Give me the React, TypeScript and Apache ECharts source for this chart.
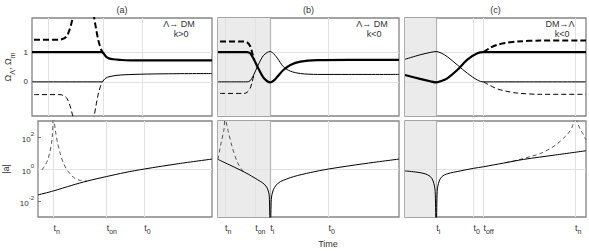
import React, { useEffect, useRef } from 'react';
import * as echarts from 'echarts';

// ---------- data ----------
const panelLabels = ['(a)', '(b)', '(c)'];
const transitionText = [['Λ→ DM', 'k>0'], ['Λ→ DM', 'k<0'], ['DM→Λ', 'k<0']];

// time ticks (per panel, arbitrary time units 0..180)
const aTickValues = [16, 71, 110];
const aTickNames = ['n', 'on', '0'];
const bTickValues = [7, 37, 52, 110];
const bTickNames = ['n', 'on', 'i', '0'];
const cTickValues = [31, 68, 78, 169];
const cTickNames = ['i', '0', 'off', 'n'];

// shaded intervals (start, end)
const bShade = [0, 52];
const cShade = [0, 31];

// top row: density parameters
const aLambda = [[0, 1], [70, 1], [72, 0.94], [74, 0.85], [77, 0.79], [81, 0.76], [88, 0.74], [101, 0.72], [130, 0.72], [180, 0.72]];
const aMatter = [[0, 0], [70, 0], [72, 0.07], [74, 0.13], [77, 0.17], [85, 0.22], [101, 0.25], [130, 0.27], [180, 0.28]];
const aLambdaAlt = [[2, 1.42], [28, 1.42], [32, 1.46], [35, 1.55], [38, 1.8], [40, 2.05], [41, 2.2], [42, 2.6], null, [61, 2.6], [62, 2.2], [64, 1.8], [66, 1.45], [68, 1.2], [70, 1.03], [72, 0.94]];
const aMatterAlt = [[2, -0.43], [28, -0.43], [32, -0.47], [35, -0.56], [38, -0.8], [40, -1.05], [41, -1.2], [42, -1.6], null, [61, -1.6], [62, -1.2], [64, -0.8], [66, -0.45], [68, -0.2], [70, -0.02], [72, 0.07]];

const bLambda = [[0, 1], [29, 1], [32, 0.96], [35, 0.8], [40, 0.46], [45, 0.15], [49, 0.02], [52, -0.02], [55, 0.03], [59, 0.17], [65, 0.4], [72, 0.57], [82, 0.68], [99, 0.73], [130, 0.74], [180, 0.74]];
const bMatter = [[0, 0], [29, 0], [32, 0.04], [35, 0.2], [40, 0.57], [45, 0.88], [49, 0.99], [52, 1.02], [55, 0.96], [59, 0.8], [65, 0.51], [72, 0.36], [82, 0.28], [99, 0.25], [130, 0.25], [180, 0.25]];
const bLambdaAlt = [[2, 1.36], [26, 1.36], [29, 1.33], [32, 1.2], [34, 0.98], [36, 0.73]];
const bMatterAlt = [[2, -0.39], [26, -0.39], [29, -0.35], [32, -0.22], [34, 0.0], [36, 0.27]];

const cMatter = [[0, 0.76], [15, 0.91], [25, 0.99], [31, 1.02], [36, 0.97], [42, 0.85], [52, 0.57], [62, 0.29], [72, 0.06], [78, 0], [120, 0], [180, 0]];
const cLambda = [[0, 0.23], [15, 0.1], [25, 0.02], [31, -0.02], [36, 0.03], [42, 0.12], [52, 0.4], [62, 0.75], [72, 0.96], [78, 1], [120, 1], [180, 1]];
const cLambdaAlt = [[78, 1], [85, 1.15], [92, 1.25], [100, 1.31], [112, 1.36], [135, 1.39], [180, 1.39]];
const cMatterAlt = [[78, 0], [85, -0.13], [92, -0.24], [100, -0.31], [112, -0.38], [135, -0.42], [180, -0.42]];

// bottom row: log10 |a|
const aScale = [[0, -1.62], [16, -1.37], [35, -1.02], [51, -0.75], [71, -0.47], [90, -0.22], [110, 0], [145, 0.33], [180, 0.62]];
const aScaleAlt = [[4, -0.06], [8, 0.3], [10, 0.56], [12, 1.0], [14, 1.6], [15, 2.2], [16, 3.5], [17, 2.9], [18, 2.4], [20, 1.7], [23, 0.97], [26, 0.4], [30, -0.06], [34, -0.35], [38, -0.58], [44, -0.72], [51, -0.76]];
const bScale = [[0, 0.6], [11, 0.27], [22, -0.06], [30, -0.32], [37, -0.58], [42, -0.77], [46, -0.95], [49, -1.2], [51, -1.7], [52, -5], [53, -1.9], [55, -1.3], [58, -1.0], [62, -0.79], [75, -0.48], [92, -0.22], [110, 0], [145, 0.33], [180, 0.62]];
const bScaleAlt = [[0, 0.6], [3, 1.6], [6, 2.5], [7, 3.5], [8, 3.0], [10, 2.4], [14, 1.4], [19, 0.46], [24, -0.06], [28, -0.24]];
const cScale = [[0, -0.12], [12, -0.2], [20, -0.3], [25, -0.46], [28, -0.75], [30, -1.4], [31, -5], [32, -1.4], [34, -0.75], [37, -0.46], [42, -0.3], [55, -0.12], [68, 0.04], [78, 0.14], [98, 0.37], [118, 0.6], [150, 0.88], [180, 1.14]];
const cScaleAlt = [[100, 0.39], [112, 0.56], [125, 0.78], [135, 0.98], [145, 1.3], [152, 1.6], [158, 1.95], [162, 2.2], [166, 2.6], [168, 3.0], [169, 3.5], [170, 3.2], [172, 2.8], [175, 2.4], [177, 2.2], [180, 1.8]];

const omegaTicks = [0, 1];
const scaleTicks = [-2, 0, 2];

// ---------- layout ----------
const cols = [{ left: 32, width: 180 }, { left: 218, width: 181 }, { left: 405, width: 181 }];
const rows = [{ top: 18, height: 98 }, { top: 121, height: 96 }];
const FONT = 'Liberation Sans, Arial, sans-serif';
const TXT = '#333';

export default function App() {
  const ref = useRef<HTMLDivElement>(null);
  useEffect(() => {
    if (!ref.current) return;
    const chart = echarts.init(ref.current, undefined, { renderer: 'svg' });

    const tickSets = [
      { v: aTickValues, n: aTickNames },
      { v: bTickValues, n: bTickNames },
      { v: cTickValues, n: cTickNames },
    ];
    const shades = [null, bShade, cShade];

    const grids: any[] = [];
    const xAxes: any[] = [];
    const yAxes: any[] = [];
    const series: any[] = [];

    const rich = {
      t: { fontSize: 9, fontFamily: FONT, color: TXT, verticalAlign: 'top', lineHeight: 12 },
      s: { fontSize: 7, fontFamily: FONT, color: TXT, verticalAlign: 'bottom', lineHeight: 12 },
    };
    const supRich = {
      b: { fontSize: 8, fontFamily: FONT, color: TXT, verticalAlign: 'bottom', lineHeight: 12 },
      s: { fontSize: 6, fontFamily: FONT, color: TXT, verticalAlign: 'top', lineHeight: 12 },
    };

    for (let r = 0; r < 2; r++) {
      for (let c = 0; c < 3; c++) {
        const idx = r * 3 + c;
        grids.push({
          left: cols[c].left, width: cols[c].width, top: rows[r].top, height: rows[r].height,
          show: true, borderColor: '#858585', borderWidth: 1.3, backgroundColor: 'transparent',
        });
        const ts = tickSets[c];
        xAxes.push({
          type: 'value', gridIndex: idx, min: 0, max: 180,
          axisLine: { show: false }, splitLine: { show: false },
          axisTick: { show: false },
          axisLabel: r === 1 ? {
            show: true, customValues: ts.v, margin: 6, align: 'left',
            formatter: (v: number) => {
              const k = ts.v.indexOf(v);
              return k >= 0 ? `{t|t}{s|${ts.n[k]}}` : '';
            },
            rich,
          } : { show: false },
        });
        const isTop = r === 0;
        const yTicks = isTop ? omegaTicks : scaleTicks;
        yAxes.push({
          type: 'value', gridIndex: idx,
          min: isTop ? -1.15 : -3, max: isTop ? 2.15 : 3,
          axisLine: { show: false }, splitLine: { show: false },
          axisTick: { show: true, inside: true, length: 3, customValues: yTicks, lineStyle: { color: '#777' } },
          axisLabel: c === 0 ? {
            show: true, customValues: yTicks, margin: 4,
            fontSize: 8, fontFamily: FONT, color: TXT,
            formatter: (v: number) => (isTop ? String(v) : `{b|10}{s|${v}}`),
            rich: isTop ? undefined : supRich,
          } : { show: false },
          name: c === 0 ? (isTop ? '{b|Ω}{s|Λ}{b|, Ω}{s|m}' : '{b||a|}') : '',
          nameLocation: 'middle', nameRotate: 90, nameGap: isTop ? 16 : 24,
          nameTextStyle: {
            rich: {
              b: { fontSize: 9, fontFamily: FONT, color: TXT, verticalAlign: 'top', lineHeight: 13 },
              s: { fontSize: 7, fontFamily: FONT, color: TXT, verticalAlign: 'bottom', lineHeight: 13 },
            },
          },
        });

        // background: shading + grid lines
        const sh = shades[c];
        const mlData: any[] = ts.v.map((v) => ({ xAxis: v }));
        if (isTop) { mlData.push({ yAxis: 0 }, { yAxis: 1 }); } else { mlData.push({ yAxis: 0 }); }
        series.push({
          type: 'line', xAxisIndex: idx, yAxisIndex: idx, data: [], z: 1, silent: true,
          markLine: {
            silent: true, symbol: 'none', label: { show: false }, animation: false,
            lineStyle: { color: '#e2e2e2', width: 1, type: 'solid' }, data: mlData,
          },
          markArea: sh ? {
            silent: true, itemStyle: { color: '#ebebeb' }, data: [[{ xAxis: sh[0] }, { xAxis: sh[1] }]],
          } : undefined,
        });
        if (sh) {
          series.push({
            type: 'line', xAxisIndex: idx, yAxisIndex: idx, data: [], z: 2, silent: true,
            markLine: {
              silent: true, symbol: 'none', label: { show: false },
              lineStyle: { color: '#b5b5b5', width: 1.2, type: 'solid' }, data: [{ xAxis: sh[1] }],
            },
          });
        }
      }
    }

    const line = (data: any[], idx: number, width: number, dash: any, color = '#000') => ({
      type: 'line', xAxisIndex: idx, yAxisIndex: idx, data, showSymbol: false, symbol: 'none',
      smooth: 0.3, connectNulls: false, clip: true, z: 5, silent: true,
      lineStyle: { color, width, type: dash },
    });

    const thickDash = [6, 3];
    const thinDash = [5, 3];
    series.push(
      line(aLambdaAlt, 0, 2, thickDash), line(aMatterAlt, 0, 1, thinDash),
      line(aLambda, 0, 2.2, 'solid'), line(aMatter, 0, 1, 'solid'),
      line(bLambdaAlt, 1, 2, thickDash), line(bMatterAlt, 1, 1, thinDash),
      line(bLambda, 1, 2.2, 'solid'), line(bMatter, 1, 1, 'solid'),
      line(cLambdaAlt, 2, 2, thickDash), line(cMatterAlt, 2, 1, thinDash),
      line(cLambda, 2, 2.2, 'solid'), line(cMatter, 2, 1, 'solid'),
      line(aScaleAlt, 3, 1, [4, 3], '#555'), line(aScale, 3, 1, 'solid'),
      line(bScaleAlt, 4, 1, [4, 3], '#555'), line(bScale, 4, 1, 'solid'),
      line(cScaleAlt, 5, 1, [4, 3], '#555'), line(cScale, 5, 1, 'solid'),
    );

    const graphics: any[] = [];
    for (let c = 0; c < 3; c++) {
      const cx = cols[c].left + cols[c].width / 2;
      graphics.push({ type: 'text', x: cx, y: 10, style: { text: panelLabels[c], align: 'center', verticalAlign: 'middle', font: `9px ${FONT}`, fill: TXT } });
    }
    const annX = [179, 372, 560];
    for (let c = 0; c < 3; c++) {
      graphics.push({ type: 'text', x: annX[c], y: 24, z: 10, style: { text: transitionText[c][0], align: 'center', verticalAlign: 'middle', font: `9px ${FONT}`, fill: TXT } });
      graphics.push({ type: 'text', x: annX[c] + 2, y: 34, z: 10, style: { text: transitionText[c][1], align: 'center', verticalAlign: 'middle', font: `9px ${FONT}`, fill: TXT } });
    }
    graphics.push({ type: 'text', x: 328, y: 244, style: { text: 'Time', align: 'center', verticalAlign: 'middle', font: `9px ${FONT}`, fill: TXT } });

    chart.setOption({
      animation: false,
      backgroundColor: '#fff',
      grid: grids, xAxis: xAxes, yAxis: yAxes, series, graphic: graphics,
    });
    return () => chart.dispose();
  }, []);
  return <div ref={ref} style={{ position: 'fixed', left: 0, top: 0, width: 589, height: 251 }} />;
}
